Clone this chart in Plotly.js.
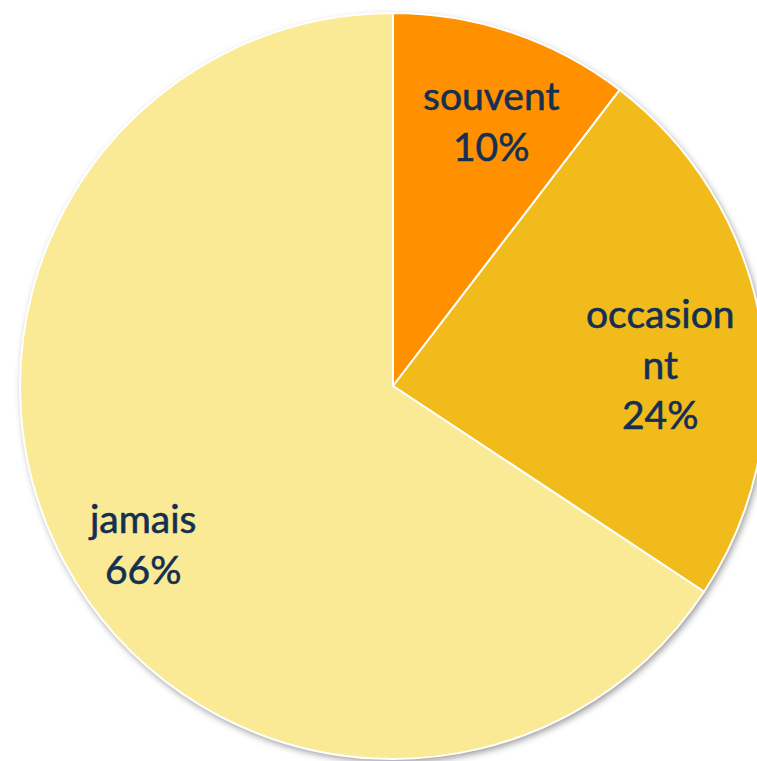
<!DOCTYPE html>
<html>
<head>
<meta charset="utf-8">
<script src="https://cdn.plot.ly/plotly-3.0.1.min.js"></script>
<style>
  html, body { margin: 0; padding: 0; overflow: hidden; background: #ffffff; }
  #chart { width: 770px; height: 770px; }
</style>
</head>
<body>
<div id="chart"></div>
<script>
// ---- data ----
const categories = ['souvent', 'occasionnt', 'jamais'];
const displayLabels = ['souvent', 'occasion<br>nt', 'jamais'];
const values = [10.4, 23.9, 65.7];

// ---- styles ----
const colors = ['#FF9100', '#F2BB1C', '#FBEA95'];
const textColor = '#142F52';
const labelRadius = [0.75, 0.716, 0.797];   // fraction of pie radius
const labelAngleNudge = [1.5, 5.0, -4.0];    // degrees

const W = 770, H = 770;
const mL = 20, mT = 13, side = 746;
const mR = W - mL - side, mB = H - mT - side;

const total = values.reduce((a, b) => a + b, 0);
let cum = 0;
const annotations = values.map((v, i) => {
  const mid = (cum + v / 2) / total * 360 + labelAngleNudge[i];
  cum += v;
  const t = mid * Math.PI / 180;
  const pct = Math.round(v / total * 100) + '%';
  return {
    xref: 'paper', yref: 'paper',
    x: 0.5 + 0.5 * labelRadius[i] * Math.sin(t),
    y: 0.5 + 0.5 * labelRadius[i] * Math.cos(t),
    xanchor: 'center', yanchor: 'middle',
    yshift: 3,
    text: displayLabels[i] + '<br>' + pct,
    showarrow: false,
    align: 'center',
    font: { family: 'Lato, sans-serif', size: 39, color: textColor }
  };
});

const shiftX = 2 / side, shiftY = 3 / side;
const shadow = {
  type: 'pie',
  values: [total],
  labels: ['shadow'],
  marker: { colors: ['rgba(0,0,0,0.42)'], line: { width: 0 } },
  textinfo: 'none', hoverinfo: 'skip', sort: false,
  showlegend: false,
  domain: { x: [shiftX, 1], y: [0, 1 - shiftY] }
};

const pie = {
  type: 'pie',
  values: values,
  labels: categories,
  sort: false,
  direction: 'clockwise',
  rotation: 0,
  marker: { colors: colors, line: { color: '#ffffff', width: 2 } },
  textinfo: 'none',
  hoverinfo: 'none',
  showlegend: false,
  domain: { x: [0, 1 - shiftX], y: [shiftY, 1] }
};

const layout = {
  width: W, height: H,
  margin: { l: mL, r: mR - 2, t: mT, b: mB - 3 },
  paper_bgcolor: '#ffffff',
  plot_bgcolor: '#ffffff',
  showlegend: false,
  annotations: annotations
};

Plotly.newPlot('chart', [shadow, pie], layout, { staticPlot: true, displayModeBar: false }).then(() => {
  const traces = document.querySelectorAll('.pielayer .trace');
  if (traces.length) traces[0].style.filter = 'blur(3.5px)';
  const texts = document.querySelectorAll('.annotation-text');
  texts.forEach(t => { t.style.stroke = '#142F52'; t.style.strokeWidth = '0.6px'; });
});
</script>
</body>
</html>
